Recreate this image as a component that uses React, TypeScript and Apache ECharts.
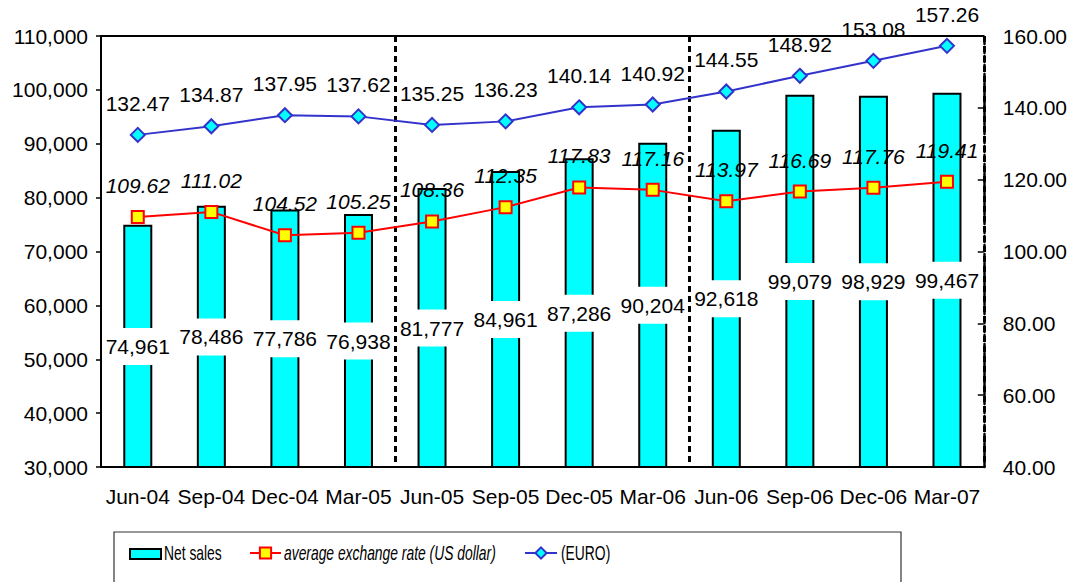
import React, { useEffect, useRef } from "react";
import * as echarts from "echarts";

const categories = ["Jun-04", "Sep-04", "Dec-04", "Mar-05", "Jun-05", "Sep-05", "Dec-05", "Mar-06", "Jun-06", "Sep-06", "Dec-06", "Mar-07"];
const netSales = [74961, 78486, 77786, 76938, 81777, 84961, 87286, 90204, 92618, 99079, 98929, 99467];
const usdRate = [109.62, 111.02, 104.52, 105.25, 108.36, 112.35, 117.83, 117.16, 113.97, 116.69, 117.76, 119.41];
const euroRate = [132.47, 134.87, 137.95, 137.62, 135.25, 136.23, 140.14, 140.92, 144.55, 148.92, 153.08, 157.26];
const separatorIndices = [4, 8];
const seriesNames = ["Net sales", "average exchange rate (US dollar)", "(EURO)"];

const FONT = "'Liberation Sans', Arial, sans-serif";

export default function App() {
  const ref = useRef<HTMLDivElement>(null);
  useEffect(() => {
    if (!ref.current) return;
    const chart = echarts.init(ref.current, null, { renderer: "svg" });
    const txt = { fontFamily: FONT, fontSize: 21, color: "#000" };
    const legendIconOnly = { formatter: () => "", selectedMode: false, itemGap: 0, padding: 0 };
    const legendText = (text: string, x: number, italic = false) => ({
      type: "text",
      x,
      y: 553,
      scaleX: 0.66,
      silent: true,
      style: {
        text,
        fill: "#000",
        fontSize: 21,
        fontFamily: FONT,
        fontStyle: italic ? "italic" : "normal",
        verticalAlign: "middle",
        align: "left",
      },
    });
    chart.setOption({
      animation: false,
      backgroundColor: "#fff",
      textStyle: { fontFamily: FONT },
      grid: { left: 101, right: 86, top: 36, bottom: 115 },
      legend: [
        { ...legendIconOnly, data: [{ name: seriesNames[0], icon: "rect" }], left: 129, top: 548, itemWidth: 31, itemHeight: 10 },
        { ...legendIconOnly, data: [seriesNames[1]], left: 249, top: 546, itemWidth: 31, itemHeight: 14 },
        { ...legendIconOnly, data: [seriesNames[2]], left: 524, top: 546, itemWidth: 32, itemHeight: 14 },
      ],
      graphic: [
        {
          type: "rect",
          shape: { x: 114, y: 532, width: 787, height: 70 },
          style: { fill: "none", stroke: "#333", lineWidth: 1.2 },
          silent: true,
        },
        legendText(seriesNames[0], 164),
        legendText(seriesNames[1], 284, true),
        legendText(seriesNames[2], 561),
      ],
      xAxis: [
        {
          type: "category",
          data: categories,
          boundaryGap: true,
          axisLine: { lineStyle: { color: "#000", width: 2 } },
          axisTick: { show: false },
          axisLabel: { ...txt, margin: 19, interval: 0 },
          splitLine: {
            show: true,
            interval: (index: number) => separatorIndices.includes(index),
            lineStyle: { color: "#000", width: 3, type: [6, 4] },
          },
        },
        {
          type: "category",
          data: categories,
          position: "top",
          axisLine: { lineStyle: { color: "#000", width: 2 } },
          axisTick: { show: false },
          axisLabel: { show: false },
          splitLine: { show: false },
        },
      ],
      yAxis: [
        {
          type: "value",
          min: 30000,
          max: 110000,
          interval: 10000,
          axisLine: { show: true, lineStyle: { color: "#000", width: 2 } },
          axisTick: { show: true, length: 5, lineStyle: { color: "#000", width: 1.5 } },
          axisLabel: { ...txt, margin: 13, formatter: (v: number) => v.toLocaleString("en-US") },
          splitLine: { show: false },
        },
        {
          type: "value",
          min: 40,
          max: 160,
          interval: 20,
          position: "right",
          axisLine: { show: true, lineStyle: { color: "#000", width: 2.5, type: [6, 3] } },
          axisTick: { show: true, inside: true, length: 6, lineStyle: { color: "#000", width: 1.5 } },
          axisLabel: { ...txt, margin: 19, formatter: (v: number) => v.toFixed(2) },
          splitLine: { show: false },
        },
      ],
      series: [
        {
          name: seriesNames[0],
          type: "bar",
          data: netSales,
          barWidth: 29,
          itemStyle: { color: "#00FFFF", borderColor: "#000", borderWidth: 2 },
          label: {
            show: true,
            position: "inside",
            ...txt,
            backgroundColor: "#fff",
            padding: [8, 2],
            formatter: (p: any) => Number(p.value).toLocaleString("en-US"),
          },
          z: 1,
        },
        {
          name: seriesNames[1],
          type: "line",
          yAxisIndex: 1,
          data: usdRate,
          symbol: "rect",
          symbolSize: 12,
          lineStyle: { color: "#FF0000", width: 2 },
          itemStyle: { color: "#FFFF00", borderColor: "#FF0000", borderWidth: 2 },
          label: {
            show: true,
            position: "top",
            distance: 14,
            ...txt,
            fontStyle: "italic",
            formatter: (p: any) => Number(p.value).toFixed(2),
          },
          z: 3,
        },
        {
          name: seriesNames[2],
          type: "line",
          yAxisIndex: 1,
          data: euroRate,
          symbol: "diamond",
          symbolSize: 14,
          lineStyle: { color: "#3333CC", width: 2 },
          itemStyle: { color: "#00FFFF", borderColor: "#3333CC", borderWidth: 2 },
          label: {
            show: true,
            position: "top",
            distance: 13,
            ...txt,
            formatter: (p: any) => Number(p.value).toFixed(2),
          },
          z: 3,
        },
      ],
    });
    return () => chart.dispose();
  }, []);
  return (
    <div
      ref={ref}
      style={{ position: "fixed", left: 0, top: 0, width: 1070, height: 582, background: "#fff" }}
    />
  );
}
